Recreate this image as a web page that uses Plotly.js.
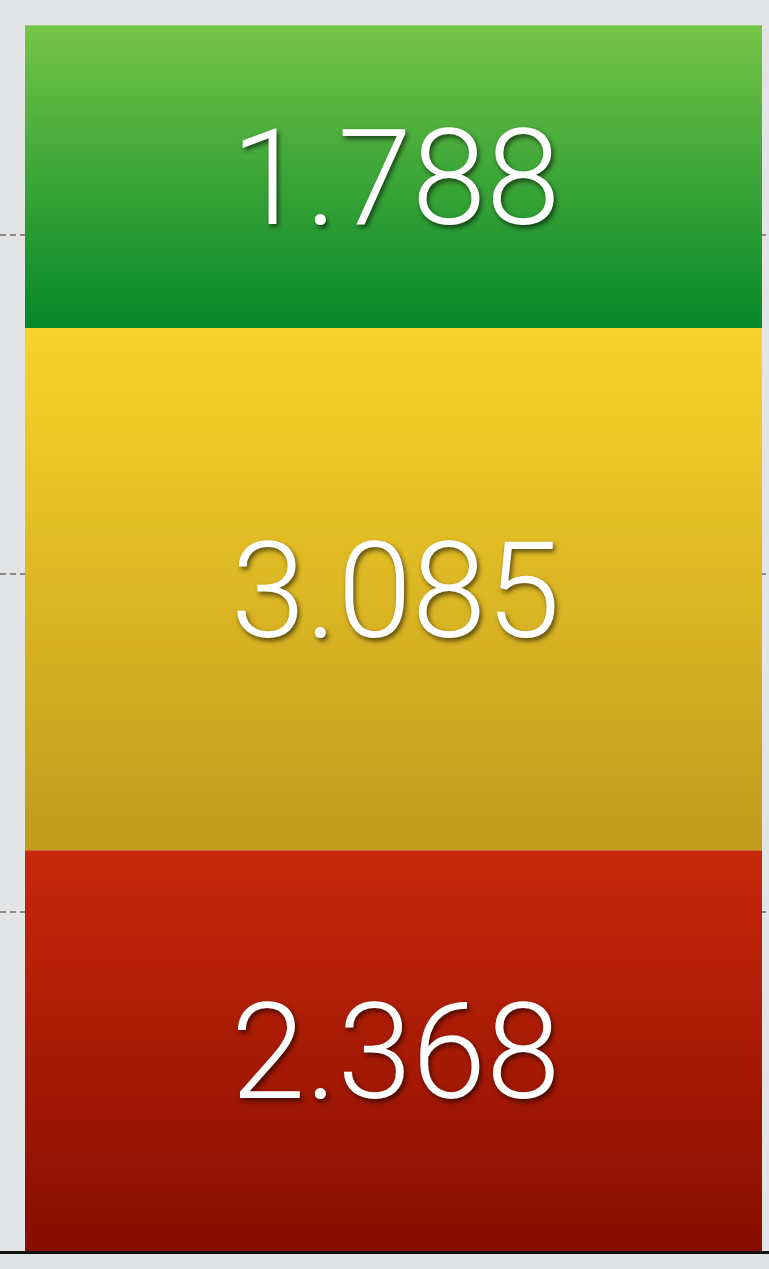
<!DOCTYPE html>
<html>
<head>
<meta charset="utf-8">
<script src="https://cdn.plot.ly/plotly-3.0.1.min.js"></script>
<style>
  html, body { margin: 0; padding: 0; background: #e2e3e4; }
  #chart { width: 769px; height: 1269px; }
</style>
</head>
<body>
<div id="chart"></div>
<script>
// ---- data (bottom to top of the stack) ----
const segmentNames = ["Red", "Yellow", "Green"];
const segmentValues = [2.368, 3.085, 1.788];
const segmentLabels = ["2.368", "3.085", "1.788"];
const category = "Total";

// ---- styles ----
const gradients = [
  [[0, "#860d00"], [1, "#c9280a"]],
  [[0, "#c29a1d"], [1, "#f7d42a"]],
  [[0, "#058829"], [1, "#75c447"]]
];
const barHalfWidth = 0.5;
const center = 0;

const traces = [];
const annotations = [];
let base = 0;
segmentValues.forEach((v, i) => {
  const top = base + v;
  traces.push({
    type: "scatter",
    mode: "lines",
    name: segmentNames[i],
    x: [center - barHalfWidth, center + barHalfWidth, center + barHalfWidth, center - barHalfWidth, center - barHalfWidth],
    y: [base, base, top, top, base],
    fill: "toself",
    fillgradient: { type: "vertical", colorscale: gradients[i] },
    line: { width: 0 },
    hoverinfo: "skip",
    showlegend: false
  });
  annotations.push({
    x: center,
    y: base + v / 2,
    xref: "x",
    yref: "y",
    text: segmentLabels[i],
    showarrow: false,
    xanchor: "center",
    yanchor: "middle",
    xshift: 2,
    yshift: -2,
    font: {
      family: "Roboto, 'Liberation Sans', sans-serif",
      size: 134,
      weight: 300,
      color: "#ffffff",
      shadow: "2px 3px 5px rgba(0,0,0,0.6)"
    }
  });
  base = top;
});

const layout = {
  width: 769,
  height: 1269,
  margin: { l: 0, r: 0, t: 0, b: 18, pad: 0 },
  paper_bgcolor: "#e0e1e2",
  plot_bgcolor: "#e3e4e5",
  showlegend: false,
  annotations: annotations,
  xaxis: {
    range: [-0.5 - 25 / 737, 0.5 + 7 / 737],
    showgrid: false,
    zeroline: false,
    showticklabels: false,
    ticks: "",
    showline: true,
    linecolor: "#111111",
    linewidth: 3,
    fixedrange: true
  },
  yaxis: {
    range: [0, 7.39],
    dtick: 2,
    tick0: 0,
    showgrid: true,
    gridcolor: "#8a8a8a",
    gridwidth: 2,
    griddash: "6px,4px",
    zeroline: false,
    showticklabels: false,
    ticks: "",
    showline: false,
    fixedrange: true
  },
  hovermode: false
};

Plotly.newPlot("chart", traces, layout, { displayModeBar: false, staticPlot: true });
</script>
</body>
</html>
